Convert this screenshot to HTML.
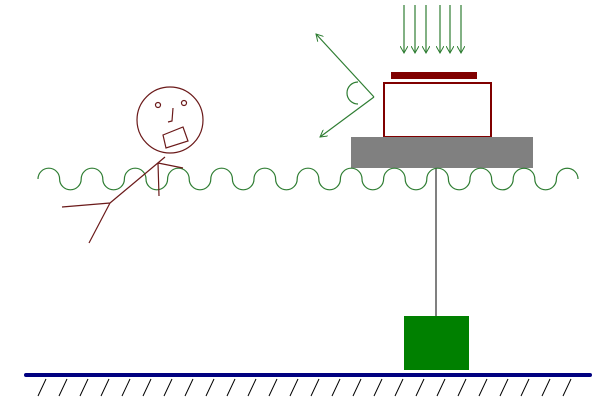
<!DOCTYPE html>
<html><head><style>body{margin:0;background:#fff}svg{display:block}</style></head><body>
<svg width="600" height="400" viewBox="0 0 600 400" xmlns="http://www.w3.org/2000/svg">
<defs>
<marker id="a" markerWidth="8" markerHeight="8" refX="7" refY="4" orient="auto" markerUnits="userSpaceOnUse"><path d="M0,0 L7,4 L0,8" fill="none" stroke="#2e7d32" stroke-width="1"/></marker>
</defs>
<g stroke="#2e7d32" stroke-width="1.2" fill="none">
<line x1="404" y1="5" x2="404" y2="53" marker-end="url(#a)"/>
<line x1="415" y1="5" x2="415" y2="53" marker-end="url(#a)"/>
<line x1="426" y1="5" x2="426" y2="53" marker-end="url(#a)"/>
<line x1="440" y1="5" x2="440" y2="53" marker-end="url(#a)"/>
<line x1="450" y1="5" x2="450" y2="53" marker-end="url(#a)"/>
<line x1="461" y1="5" x2="461" y2="53" marker-end="url(#a)"/>
<line x1="374" y1="97" x2="316" y2="34" marker-end="url(#a)"/>
<line x1="374" y1="97" x2="320" y2="137" marker-end="url(#a)"/>
<path d="M358,82 A11,11 0 0 0 358,104"/>
</g>
<rect x="391" y="72" width="86" height="7" fill="#800000"/>
<rect x="384" y="83" width="107" height="54" fill="#fff" stroke="#800000" stroke-width="2"/>
<rect x="351" y="137" width="182" height="31" fill="#808080"/>
<line x1="436" y1="168" x2="436" y2="316" stroke="#808080" stroke-width="2"/>
<rect x="404" y="316" width="65" height="54" fill="#008000"/>
<path fill="none" stroke="#2e7d32" stroke-width="1.2" d="M38,179 a10.8,10.8 0 0 1 21.6,0 a10.8,10.8 0 0 0 21.6,0 a10.8,10.8 0 0 1 21.6,0 a10.8,10.8 0 0 0 21.6,0 a10.8,10.8 0 0 1 21.6,0 a10.8,10.8 0 0 0 21.6,0 a10.8,10.8 0 0 1 21.6,0 a10.8,10.8 0 0 0 21.6,0 a10.8,10.8 0 0 1 21.6,0 a10.8,10.8 0 0 0 21.6,0 a10.8,10.8 0 0 1 21.6,0 a10.8,10.8 0 0 0 21.6,0 a10.8,10.8 0 0 1 21.6,0 a10.8,10.8 0 0 0 21.6,0 a10.8,10.8 0 0 1 21.6,0 a10.8,10.8 0 0 0 21.6,0 a10.8,10.8 0 0 1 21.6,0 a10.8,10.8 0 0 0 21.6,0 a10.8,10.8 0 0 1 21.6,0 a10.8,10.8 0 0 0 21.6,0 a10.8,10.8 0 0 1 21.6,0 a10.8,10.8 0 0 0 21.6,0 a10.8,10.8 0 0 1 21.6,0 a10.8,10.8 0 0 0 21.6,0 a10.8,10.8 0 0 1 21.6,0"/>
<g stroke="#6b1a1a" stroke-width="1.2" fill="none">
<circle cx="170" cy="120" r="33"/>
<circle cx="158" cy="105" r="2.5"/>
<circle cx="184" cy="103" r="2.5"/>
<path d="M173,108 L172,121 L168,122"/>
<path d="M163,135 L183,127 L188,141 L166,148 Z"/>
<path d="M165,157 L110,203 L62,207 M110,203 L89,243 M158,163 L183,168 M158,163 L159,196"/>
</g>
<line x1="26" y1="375" x2="590" y2="375" stroke="#000080" stroke-width="4" stroke-linecap="round"/>
<g stroke="#000" stroke-width="1">
<path d="M46,379 l-8,17 M67,379 l-8,17 M88,379 l-8,17 M109,379 l-8,17 M130,379 l-8,17 M151,379 l-8,17 M172,379 l-8,17 M193,379 l-8,17 M214,379 l-8,17 M235,379 l-8,17 M256,379 l-8,17 M277,379 l-8,17 M298,379 l-8,17 M319,379 l-8,17 M340,379 l-8,17 M361,379 l-8,17 M382,379 l-8,17 M403,379 l-8,17 M424,379 l-8,17 M445,379 l-8,17 M466,379 l-8,17 M487,379 l-8,17 M508,379 l-8,17 M529,379 l-8,17 M550,379 l-8,17 M571,379 l-8,17"/>
</g>
</svg>
</body></html>
